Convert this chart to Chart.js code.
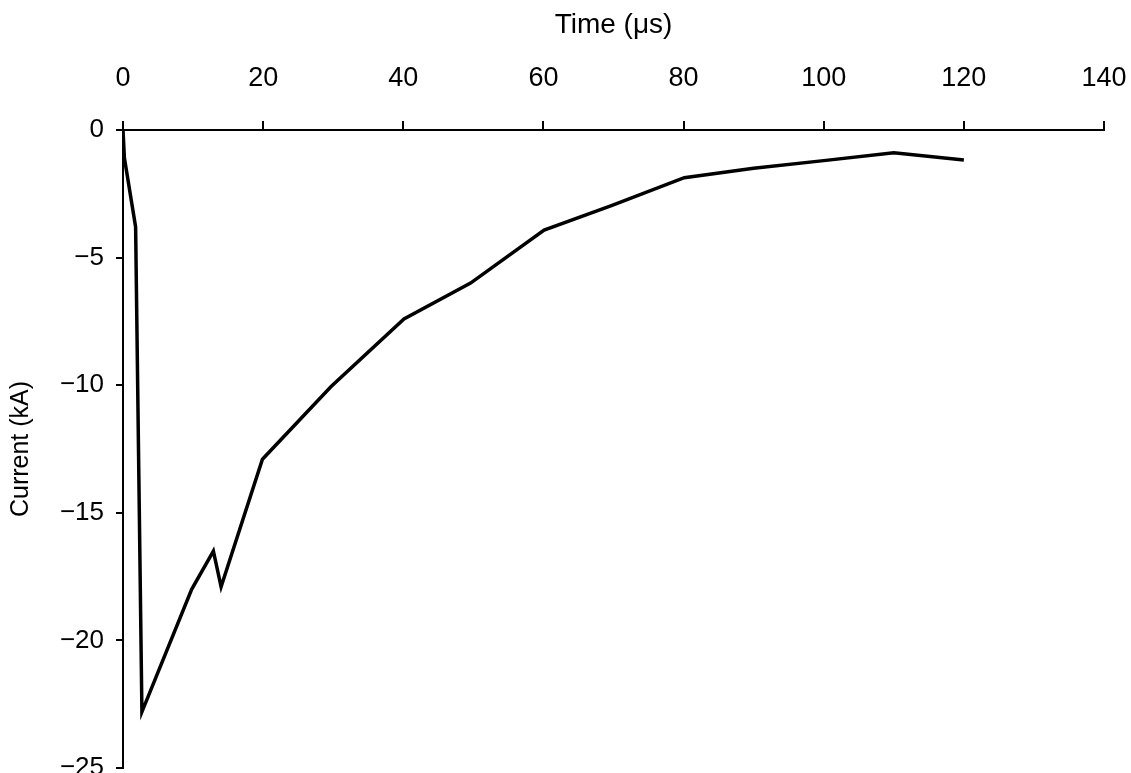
<!DOCTYPE html>
<html>
<head>
<meta charset="utf-8">
<script src="https://cdn.jsdelivr.net/npm/chart.js@4"></script>
<style>
  html, body { margin: 0; padding: 0; background: #fff; overflow: hidden; }
  #wrap { width: 1131px; height: 785px; }
</style>
</head>
<body>
<div id="wrap"><canvas id="myChart"></canvas></div>
<script>
// time in microseconds, current in kA
var timeUs    = [0, 0.2, 1.8, 2.7, 9.8, 12.9, 14.0, 19.9, 29.7, 40.1, 49.6, 60.1, 69.8, 80.1, 90, 100, 110, 120];
var currentKA = [0, -1.1, -3.8, -22.8, -18.0, -16.5, -17.9, -12.9, -10.05, -7.4, -6.0, -3.92, -2.95, -1.87, -1.5, -1.2, -0.89, -1.18];

var xTicks = [0, 20, 40, 60, 80, 100, 120, 140];
var yTicks = [0, -5, -10, -15, -20, -25];

var points = timeUs.map(function (t, i) { return { x: t, y: currentKA[i] }; });

var fam = "'Liberation Sans', Arial, sans-serif";

var ctx = document.getElementById('myChart').getContext('2d');

var myChart = new Chart(ctx, {
    type: 'line',
    data: {
        datasets: [{
            data: points,
            borderColor: '#000',
            borderWidth: 3.5,
            pointRadius: 0,
            tension: 0,
            fill: false
        }]
    },
    options: {
        responsive: true,
        maintainAspectRatio: false,
        animation: false,
        layout: { padding: 0 },
        plugins: { legend: { display: false }, tooltip: { enabled: false } },
        scales: {
            x: {
                type: 'linear',
                position: 'top',
                min: 0,
                max: 140,
                afterBuildTicks: function (s) { s.ticks = xTicks.map(function (v) { return { value: v }; }); },
                // pin the plot area: x axis line at y=130, right end at 1104
                afterFit: function (s) { s.height = 130; s.paddingLeft = 0; s.paddingRight = 27; },
                grid: { drawOnChartArea: false, drawTicks: true, tickLength: 9, color: '#000', lineWidth: 2 },
                border: { display: true, color: '#000', width: 2 },
                ticks: { color: '#000', font: { family: fam, size: 27 }, padding: 26, maxRotation: 0 },
                title: { display: true, text: 'Time (\u03bcs)', color: '#000', font: { family: fam, size: 28 }, padding: { top: 8, bottom: 0 } }
            },
            y: {
                min: -25,
                max: 0,
                afterBuildTicks: function (s) { s.ticks = yTicks.map(function (v) { return { value: v }; }); },
                afterFit: function (s) { s.width = 123; s.paddingTop = 0; s.paddingBottom = 17; },
                grid: { drawOnChartArea: false, drawTicks: true, tickLength: 7, color: '#000', lineWidth: 2 },
                border: { display: true, color: '#000', width: 2 },
                ticks: {
                    color: '#000',
                    font: { family: fam, size: 26 },
                    padding: 12,
                    callback: function (v) { return String(v).replace('-', '\u2212'); }
                },
                title: { display: true, text: 'Current (kA)', color: '#000', font: { family: fam, size: 25 }, padding: { top: 6, bottom: 0 } }
            }
        }
    }
});
</script>
</body>
</html>
